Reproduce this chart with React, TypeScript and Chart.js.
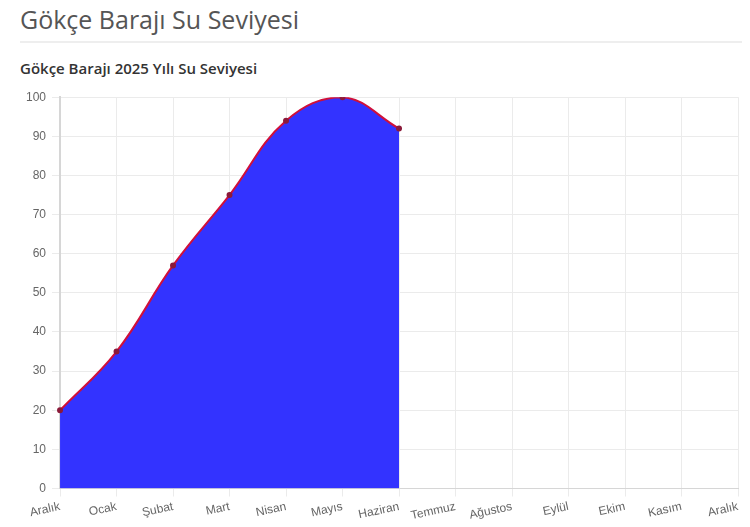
import React, { useEffect, useRef } from "react";
import { Chart, registerables } from "chart.js";

Chart.register(...registerables);

const pageTitle = "Gökçe Barajı Su Seviyesi";
const chartTitle = "Gökçe Barajı 2025 Yılı Su Seviyesi";
const months = ["Aralık", "Ocak", "Şubat", "Mart", "Nisan", "Mayıs", "Haziran", "Temmuz", "Ağustos", "Eylül", "Ekim", "Kasım", "Aralık"];
const levels: (number | null)[] = [20, 35, 57, 75, 94, 100, 92, null, null, null, null, null, null];

export default function App() {
  const ref = useRef<HTMLCanvasElement>(null);
  useEffect(() => {
    if (!ref.current) return;
    const chart = new Chart(ref.current, {
      type: "line",
      data: {
        labels: months,
        datasets: [
          {
            label: chartTitle,
            data: levels,
            borderColor: "#d0103a",
            borderWidth: 2,
            backgroundColor: "#3333ff",
            fill: "origin",
            tension: 0.4,
            pointRadius: 2,
            pointBackgroundColor: "#8b1a3a",
            pointBorderColor: "#8b1a3a",
            spanGaps: false,
          },
        ],
      },
      options: {
        animation: false,
        responsive: false,
        maintainAspectRatio: false,
        plugins: { legend: { display: false }, title: { display: false }, tooltip: { enabled: false } },
        layout: { padding: { top: 8, right: 8, left: 0, bottom: 0 } },
        scales: {
          x: {
            grid: { color: "#ebebeb" },
            border: { color: "#d6d6d6" },
            ticks: { color: "#666", font: { family: "Arial, Liberation Sans", size: 12 }, minRotation: 12, maxRotation: 12, autoSkip: false },
          },
          y: {
            min: 0,
            max: 100,
            grid: { color: "#ebebeb" },
            border: { color: "#d6d6d6", width: 2 },
            ticks: { stepSize: 10, color: "#666", padding: 6, font: { family: "Arial, Liberation Sans", size: 12 } },
          },
        },
      },
    });
    return () => chart.destroy();
  }, []);
  return (
    <div style={{ position: "relative", width: 734, height: 511, fontFamily: "'Open Sans', Arial, sans-serif" }}>
      <div style={{ position: "absolute", left: 12, top: -6, fontSize: 25, color: "#555", whiteSpace: "nowrap" }}>{pageTitle}</div>
      <div style={{ position: "absolute", left: 12, top: 33, width: 730, height: 2, background: "#eeeeee" }} />
      <div style={{ position: "absolute", left: 12, top: 50, fontSize: 15, fontWeight: 600, color: "#333", whiteSpace: "nowrap" }}>{chartTitle}</div>
      <canvas ref={ref} width={726} height={442} style={{ position: "absolute", left: 12, top: 76 }} />
    </div>
  );
}
